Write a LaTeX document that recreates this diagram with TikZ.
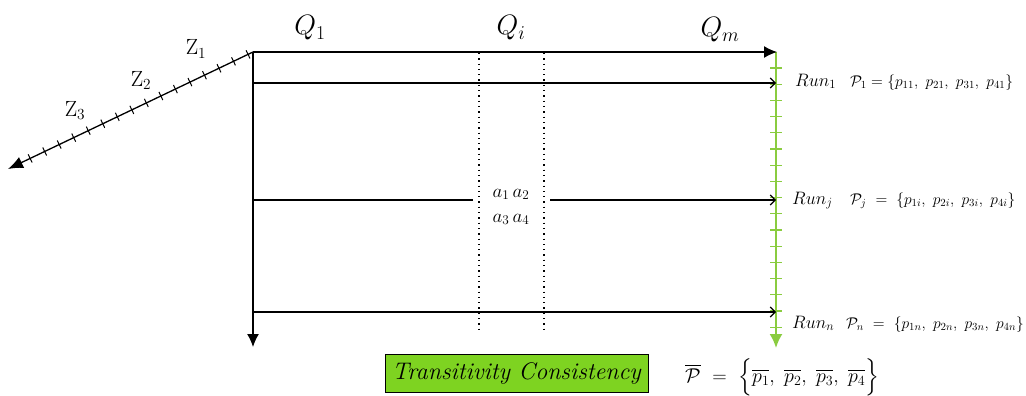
\RequirePackage{fix-cm}
\documentclass[tikz,border=0pt]{standalone}
\usepackage{exscale}
\usetikzlibrary{arrows.meta,decorations.markings,calc}
\definecolor{boxgreen}{RGB}{126,211,33}
\definecolor{axgreen}{RGB}{138,204,64}
\tikzset{
  axis/.style={line width=1.3pt, black},
  bigtip/.style={-{Latex[length=13pt,width=12pt]}},
  runline/.style={line width=1.2pt, -{Straight Barb[length=5pt,width=10pt,line width=1.1pt]}},
  dotline/.style={line width=1.3pt, dash pattern=on 1.3pt off 4pt, line cap=butt},
  lbl/.style={inner sep=0pt, anchor=base},
  lblw/.style={inner sep=0pt, anchor=base west},
  qfont/.style={font=\fontsize{28}{32}\selectfont},
  zfont/.style={font=\fontsize{22}{26}\selectfont},
  runfont/.style={font=\fontsize{18}{21}\selectfont},
  setfont/.style={font=\fontsize{15.5}{18}\selectfont},
  afont/.style={font=\fontsize{19}{22}\selectfont},
}
\begin{document}
\begin{tikzpicture}[x=1pt,y=-1pt]
\useasboundingbox (0,0) rectangle (1026,396);
% coordinates
\coordinate (O) at (253,52);
\coordinate (Qend) at (777,52);
\coordinate (Dend) at (253,347);
\coordinate (Zend) at (8,169);
\coordinate (Gtop) at (776,52);
\coordinate (Gend) at (776,348);
\coordinate (R1a) at (253,83);  \coordinate (R1b) at (776,83);
\coordinate (Rja) at (253,200); \coordinate (Rjb) at (473,200);
\coordinate (Rjc) at (550,200); \coordinate (Rjd) at (776,200);
\coordinate (Rna) at (253,312); \coordinate (Rnb) at (776,312);
\coordinate (D1a) at (479,53);  \coordinate (D1b) at (479,332);
\coordinate (D2a) at (544,53);  \coordinate (D2b) at (544,332);
% green axis
\draw[axgreen, line width=2pt, -{Latex[length=14pt,width=13pt]}] (Gtop) -- (Gend);
\foreach \k in {0,...,16} \draw[axgreen, line width=1.3pt] (770,{68+16.2*\k}) -- (782,{68+16.2*\k});
% dotted lines
\draw[dotline] (D1a) -- (D1b);
\draw[dotline] (D2a) -- (D2b);
% axes
\draw[axis,bigtip] (O) -- (Qend);
\draw[axis,bigtip] (O) -- (Dend);
\draw[axis,-{Latex[length=15pt,width=12pt]}] (O) -- (Zend);
\path[decorate, decoration={markings, mark=between positions 5.5pt and 250pt step 16.1pt with {\draw[line width=1pt] (0pt,-4.5pt) -- (0pt,4.5pt);}}] (O) -- (Zend);
% runs
\draw[runline] (R1a) -- (R1b);
\draw[line width=1.2pt] (Rja) -- (Rjb);
\draw[runline] (Rjc) -- (Rjd);
\draw[runline] (Rna) -- (Rnb);
% labels
\node[lbl,qfont] (q1) at (310,35) {$Q_1$};
\node[lbl,qfont] (qi) at (511,35) {$Q_i$};
\node[lbl,qfont] (qm) at (720,37) {$Q_m$};
\node[lbl,zfont] (z1) at (196,55) {$\mathrm{Z}_1$};
\node[lbl,zfont] (z2) at (141,86) {$\mathrm{Z}_2$};
\node[lbl,zfont] (z3) at (75,116) {$\mathrm{Z}_3$};
\node[lbl,afont] (a12) at (511,197) {$a_1\,a_2$};
\node[lbl,afont] (a34) at (511,222) {$a_3\,a_4$};
\node[lblw,runfont] (run1) at (795,86) {$Run_1$};
\node[lblw,runfont] (runj) at (792,204) {$Run_j$};
\node[lblw,runfont] (runn) at (792,328) {$Run_n$};
\node[lblw,setfont] (p1) at (850,86) {$\mathcal{P}_1 = \{p_{11},\ p_{21},\ p_{31},\ p_{41}\}$};
\node[lblw,setfont] (pj) at (850,204) {$\mathcal{P}_j\ =\ \{p_{1i},\ p_{2i},\ p_{3i},\ p_{4i}\}$};
\node[lblw,setfont] (pn) at (846,328) {$\mathcal{P}_n\ =\ \{p_{1n},\ p_{2n},\ p_{3n},\ p_{4n}\}$};
\node[draw=black, line width=1pt, fill=boxgreen, font=\fontsize{24}{28}\selectfont\itshape, minimum width=263pt, minimum height=38pt, inner sep=0pt] (tc) at (516.5,373) {Transitivity Consistency};
\node[anchor=west, inner sep=0pt, font=\fontsize{20}{24}\selectfont] (pbar) at (685,377) {$\overline{\mathcal{P}}\ =\ \left\{\vrule height 17pt depth 10pt width 0pt\overline{p_1},\ \overline{p_2},\ \overline{p_3},\ \overline{p_4}\right\}$};
\end{tikzpicture}
\end{document}
